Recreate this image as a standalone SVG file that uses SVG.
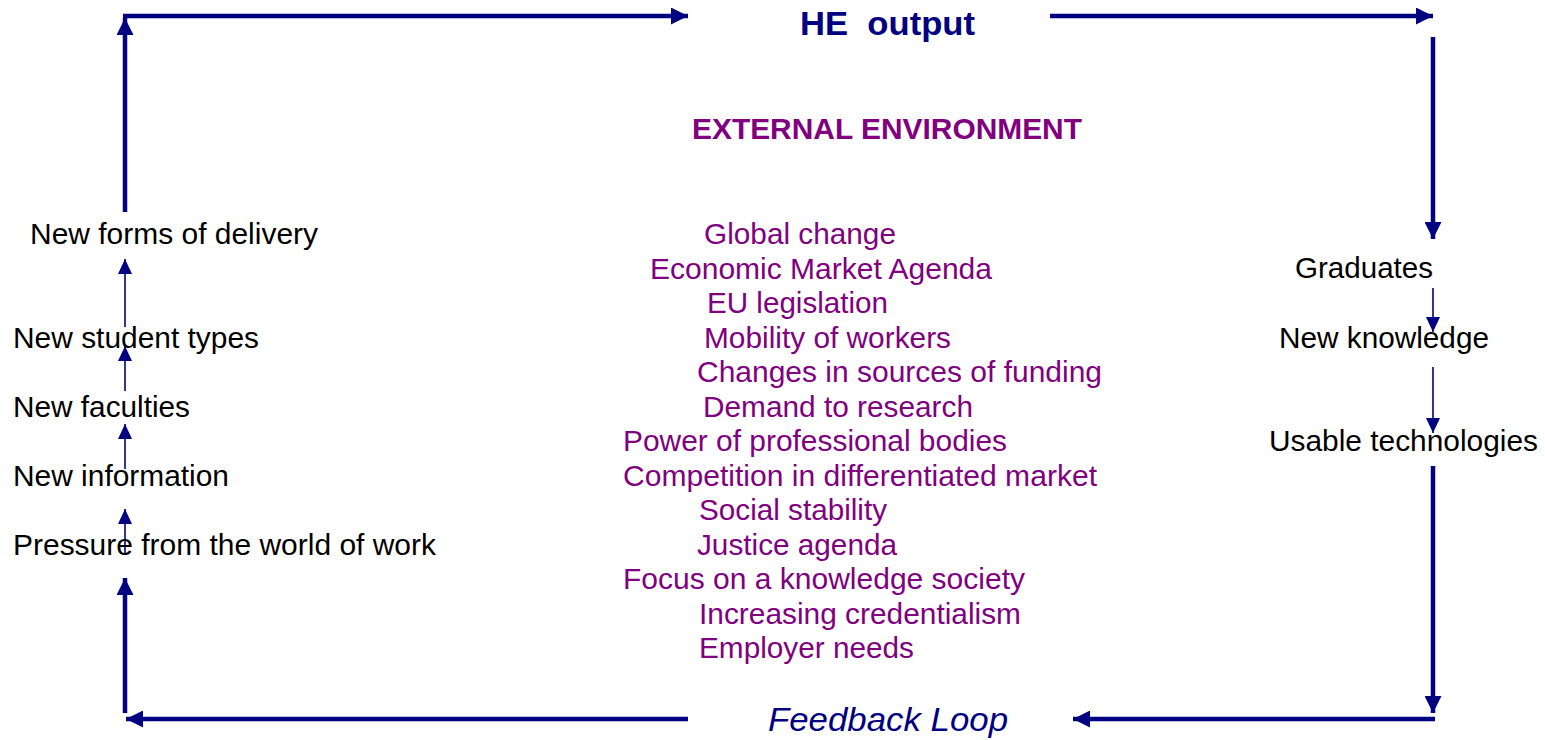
<svg xmlns="http://www.w3.org/2000/svg" width="1545" height="740" viewBox="0 0 1545 740">
  <style>
    .bg { fill: #ffffff; }
    .thick { stroke: #000080; stroke-width: 4.5; fill: none; }
    .thin { stroke: #000080; stroke-width: 1.6; fill: none; }
    .lbl { font-family: "Liberation Sans", Arial, sans-serif; font-size: 29.5px; fill: #000000; }
    .env { font-family: "Liberation Sans", Arial, sans-serif; font-size: 29.5px; fill: #800080; }
    .head { font-family: "Liberation Sans", Arial, sans-serif; font-weight: bold; font-size: 33px; fill: #000080; }
    .envhead { font-family: "Liberation Sans", Arial, sans-serif; font-weight: bold; font-size: 30px; fill: #800080; }
    .loop { font-family: "Liberation Sans", Arial, sans-serif; font-style: italic; font-size: 33px; fill: #000080; }
  </style>
  <defs>
    <marker id="bigArrow" markerUnits="userSpaceOnUse" markerWidth="17" markerHeight="17" refX="17" refY="8.5" orient="auto">
      <path d="M0,0 L17,8.5 L0,17 z" fill="#000080"/>
    </marker>
    <marker id="smallArrow" markerUnits="userSpaceOnUse" markerWidth="15" markerHeight="14" refX="15" refY="7" orient="auto">
      <path d="M0,0 L15,7 L0,14 z" fill="#000080"/>
    </marker>
  </defs>

  <rect class="bg" x="0" y="0" width="1545" height="740"/>

  <!-- main loop and chain connectors -->
  <g id="connectors">
    <path class="thick" d="M125,212 L125,18" marker-end="url(#bigArrow)"/>
    <path class="thick" d="M123,16 L688,16" marker-end="url(#bigArrow)"/>
    <path class="thick" d="M1050,16 L1433,16" marker-end="url(#bigArrow)"/>
    <path class="thick" d="M1433,37 L1433,239" marker-end="url(#bigArrow)"/>
    <path class="thick" d="M1433,466 L1433,713" marker-end="url(#bigArrow)"/>
    <path class="thick" d="M1435,719 L1073,719" marker-end="url(#bigArrow)"/>
    <path class="thick" d="M688,719 L126,719" marker-end="url(#bigArrow)"/>
    <path class="thick" d="M125,713 L125,578" marker-end="url(#bigArrow)"/>

    <path class="thin" d="M125,327 L125,259" marker-end="url(#smallArrow)"/>
    <path class="thin" d="M125,391 L125,346" marker-end="url(#smallArrow)"/>
    <path class="thin" d="M125,469 L125,424" marker-end="url(#smallArrow)"/>
    <path class="thin" d="M125,553 L125,509" marker-end="url(#smallArrow)"/>
    <path class="thin" d="M1433,288 L1433,332" marker-end="url(#smallArrow)"/>
    <path class="thin" d="M1433,367 L1433,433" marker-end="url(#smallArrow)"/>
  </g>

  <g id="he-output">
    <text class="head" x="800" y="35" textLength="175" lengthAdjust="spacingAndGlyphs" xml:space="preserve">HE  output</text>
  </g>

  <g id="feedback-loop">
    <text class="loop" x="768" y="731" textLength="240" lengthAdjust="spacingAndGlyphs">Feedback Loop</text>
  </g>

  <!-- left-hand chain -->
  <g id="new-forms-of-delivery"><text class="lbl" x="30" y="244" textLength="288" lengthAdjust="spacingAndGlyphs">New forms of delivery</text></g>
  <g id="new-student-types"><text class="lbl" x="13" y="348" textLength="246" lengthAdjust="spacingAndGlyphs">New student types</text></g>
  <g id="new-faculties"><text class="lbl" x="13" y="417" textLength="177" lengthAdjust="spacingAndGlyphs">New faculties</text></g>
  <g id="new-information"><text class="lbl" x="13" y="486" textLength="216" lengthAdjust="spacingAndGlyphs">New information</text></g>
  <g id="pressure"><text class="lbl" x="13" y="555" textLength="423" lengthAdjust="spacingAndGlyphs">Pressure from the world of work</text></g>

  <!-- right-hand chain -->
  <g id="graduates"><text class="lbl" x="1295" y="278" textLength="138" lengthAdjust="spacingAndGlyphs">Graduates</text></g>
  <g id="new-knowledge"><text class="lbl" x="1279" y="348" textLength="210" lengthAdjust="spacingAndGlyphs">New knowledge</text></g>
  <g id="usable-technologies"><text class="lbl" x="1269" y="451" textLength="269" lengthAdjust="spacingAndGlyphs">Usable technologies</text></g>

  <!-- external environment factors -->
  <g id="external-environment">
    <text class="envhead" x="692" y="139" textLength="390" lengthAdjust="spacingAndGlyphs">EXTERNAL ENVIRONMENT</text>
    <text class="env" x="704" y="244" textLength="192" lengthAdjust="spacingAndGlyphs">Global change</text>
    <text class="env" x="650" y="278.5" textLength="342" lengthAdjust="spacingAndGlyphs">Economic Market Agenda</text>
    <text class="env" x="707" y="313" textLength="181" lengthAdjust="spacingAndGlyphs">EU legislation</text>
    <text class="env" x="704" y="347.5" textLength="247" lengthAdjust="spacingAndGlyphs">Mobility of workers</text>
    <text class="env" x="697" y="382" textLength="405" lengthAdjust="spacingAndGlyphs">Changes in sources of funding</text>
    <text class="env" x="703" y="416.5" textLength="270" lengthAdjust="spacingAndGlyphs">Demand to research</text>
    <text class="env" x="623" y="451" textLength="384" lengthAdjust="spacingAndGlyphs">Power of professional bodies</text>
    <text class="env" x="623" y="485.5" textLength="474" lengthAdjust="spacingAndGlyphs">Competition in differentiated market</text>
    <text class="env" x="699" y="520" textLength="188" lengthAdjust="spacingAndGlyphs">Social stability</text>
    <text class="env" x="697" y="554.5" textLength="200" lengthAdjust="spacingAndGlyphs">Justice agenda</text>
    <text class="env" x="623" y="589" textLength="402" lengthAdjust="spacingAndGlyphs">Focus on a knowledge society</text>
    <text class="env" x="699" y="623.5" textLength="322" lengthAdjust="spacingAndGlyphs">Increasing credentialism</text>
    <text class="env" x="699" y="658" textLength="215" lengthAdjust="spacingAndGlyphs">Employer needs</text>
  </g>
</svg>
